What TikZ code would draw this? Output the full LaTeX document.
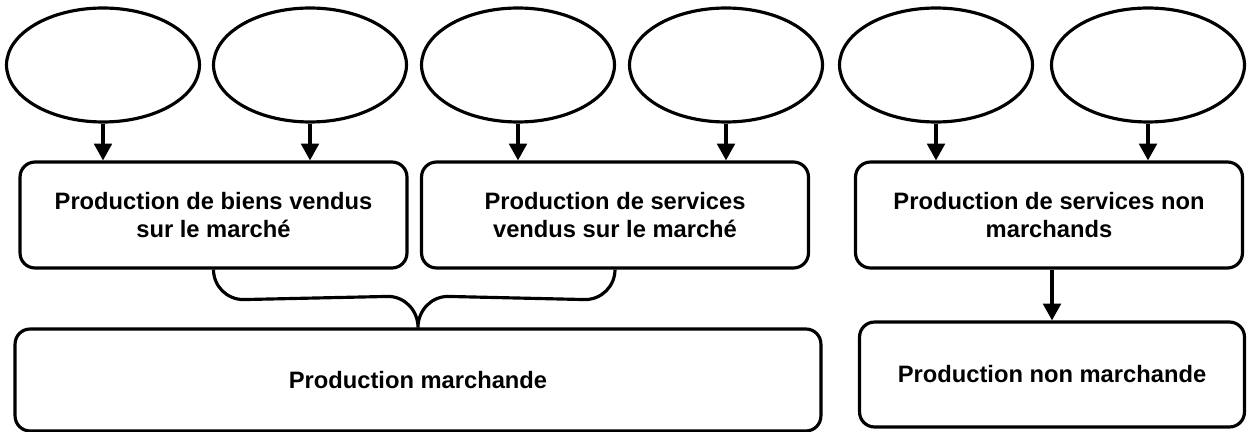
\documentclass[tikz,border=0pt]{standalone}
\usepackage{fontspec}
\setmainfont{Liberation Sans}
\usetikzlibrary{arrows.meta,shapes.geometric,calc}

\begin{document}
\begin{tikzpicture}[x=0.02cm,y=0.02cm,>={Triangle[length=9.5pt,width=10pt]},line width=1.8pt,
    oval/.style={ellipse,draw,minimum width=3.86cm,minimum height=2.28cm},
    box/.style={draw,rounded corners=0.3cm,minimum width=7.74cm,minimum height=2.12cm,align=center,
      font=\fontsize{13.5}{16}\selectfont\bfseries}]
    \useasboundingbox (0,0) rectangle (1247,-432);

    \node[oval] (E1) at (103,-65)  {};
    \node[oval] (E2) at (310,-65)  {};
    \node[oval] (E3) at (518,-65)  {};
    \node[oval] (E4) at (726,-65)  {};
    \node[oval] (E5) at (936,-65)  {};
    \node[oval] (E6) at (1148,-65) {};

    \node[box] (B1) at (213.5,-215) {Production de biens vendus\\sur le marché};
    \node[box] (B2) at (615,-215)   {Production de services\\vendus sur le marché};
    \node[box] (B3) at (1049,-215)  {Production de services non\\marchands};
    \node[box,minimum width=16.12cm,minimum height=2.04cm] (PM)  at (418,-380)    {Production marchande};
    \node[box,minimum width=7.7cm,minimum height=2.1cm]    (PNM) at (1052,-374.5) {Production non marchande};

    \path[->] (E1.south) edge (E1.south |- B1.north)
              (E2.south) edge (E2.south |- B1.north)
              (E3.south) edge (E3.south |- B2.north)
              (E4.south) edge (E4.south |- B2.north)
              (E5.south) edge (E5.south |- B3.north)
              (E6.south) edge (E6.south |- B3.north)
              (B3.south -| PNM.north) edge (PNM.north)
        ;

    \draw (B1.south) to[out=-90,in=180] ++(30,-30) -- ($(PM.north)+(-30,31)$) to[out=0,in=90] (PM.north)
          to[out=90,in=180] ($(PM.north)+(30,31)$) -- ($(B2.south)+(-30,-30)$) to[out=0,in=-90] (B2.south);

\end{tikzpicture}
\end{document}
